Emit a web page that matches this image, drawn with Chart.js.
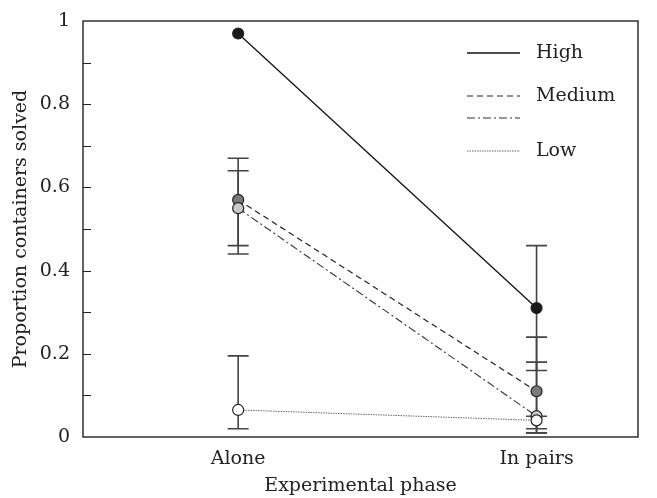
<!DOCTYPE html>
<html>
  <head>
    <meta charset="UTF-8" />
    <title>Proportion containers solved</title>
    <script src="https://cdn.jsdelivr.net/npm/chart.js"></script>
    <style>
      body {
        margin: 0;
        background: #fff;
      }
      .wrap {
        width: 657px;
        height: 498px;
      }
    </style>
  </head>
  <body>
    <div class="wrap"><canvas id="chart"></canvas></div>

    <script>
      // categories on the x axis
      const phases = ["Alone", "In pairs"];
      const phasePos = [1, 2];

      // group means and error bar ends
      const high = [0.97, 0.31];
      const highLo = [null, 0.16];
      const highHi = [null, 0.46];

      const medium = [0.57, 0.11];
      const mediumLo = [0.46, 0.02];
      const mediumHi = [0.67, 0.24];

      const mediumB = [0.55, 0.05]; // dash-dot series, no legend label
      const mediumBLo = [0.44, 0.01];
      const mediumBHi = [0.64, 0.18];

      const low = [0.065, 0.04];
      const lowLo = [0.02, 0.01];
      const lowHi = [0.195, 0.05];

      const yTicks = [0, 0.2, 0.4, 0.6, 0.8, 1];

      const FONT = "'DejaVu Serif', 'Liberation Serif', serif";

      function pts(vals) {
        return vals.map((v, i) => ({ x: phasePos[i], y: v }));
      }

      function series(label, vals, lo, hi, fill, dash, width, color, order) {
        return {
          label: label,
          data: pts(vals),
          errLo: lo,
          errHi: hi,
          order: order,
          borderColor: color,
          borderWidth: width,
          borderDash: dash,
          pointBackgroundColor: fill,
          pointBorderColor: "#222",
          pointBorderWidth: 1.2,
          pointRadius: 5.5,
          pointHoverRadius: 5.5,
          tension: 0,
        };
      }

      // later series sit on top where points overlap
      const datasets = [
        series("High", high, highLo, highHi, "#1a1a1a", [], 1.3, "#111", 4),
        series("Medium", medium, mediumLo, mediumHi, "#7a7a7a", [6, 4], 1.2, "#222", 3),
        series("", mediumB, mediumBLo, mediumBHi, "#c9c9c9", [8, 3, 2, 3], 1.1, "#333", 2),
        series("Low", low, lowLo, lowHi, "#ffffff", [1.5, 1], 1, "#666", 1),
      ];

      // error bars, drawn under the points
      const errorBars = {
        id: "errorBars",
        beforeDatasetsDraw(chart) {
          const { ctx, scales } = chart;
          ctx.save();
          ctx.strokeStyle = "#444";
          ctx.lineWidth = 1.6;
          chart.data.datasets.forEach((ds) => {
            ds.data.forEach((p, i) => {
              if (ds.errLo[i] == null) return;
              const x = scales.x.getPixelForValue(p.x);
              const y1 = scales.y.getPixelForValue(ds.errLo[i]);
              const y2 = scales.y.getPixelForValue(ds.errHi[i]);
              ctx.beginPath();
              ctx.moveTo(x, y1);
              ctx.lineTo(x, y2);
              ctx.moveTo(x - 10.5, y1);
              ctx.lineTo(x + 10.5, y1);
              ctx.moveTo(x - 10.5, y2);
              ctx.lineTo(x + 10.5, y2);
              ctx.stroke();
            });
          });
          ctx.restore();
        },
      };

      // box frame, inward y ticks and the legend inside the plot
      const frame = {
        id: "frame",
        afterDraw(chart) {
          const { ctx, chartArea: a, scales } = chart;
          ctx.save();
          ctx.strokeStyle = "#222";
          ctx.lineWidth = 1.4;
          ctx.strokeRect(a.left, a.top, a.right - a.left, a.bottom - a.top);
          ctx.beginPath();
          ctx.lineWidth = 1.2;
          for (let v = 1; v < 10; v++) {
            const y = Math.round(scales.y.getPixelForValue(v / 10)) + 0.5;
            ctx.moveTo(a.left, y);
            ctx.lineTo(a.left + 8, y);
          }
          ctx.stroke();

          const x0 = a.left + 384;
          const rows = [a.top + 32, a.top + 75, a.top + 97, a.top + 130];
          chart.data.datasets.forEach((ds, i) => {
            ctx.beginPath();
            ctx.strokeStyle = ds.borderColor;
            ctx.lineWidth = ds.borderWidth;
            ctx.setLineDash(ds.borderDash);
            ctx.moveTo(x0, rows[i]);
            ctx.lineTo(x0 + 53, rows[i]);
            ctx.stroke();
            ctx.setLineDash([]);
            if (ds.label) {
              ctx.fillStyle = "#222";
              ctx.font = "19px " + FONT;
              ctx.textBaseline = "middle";
              ctx.fillText(ds.label, x0 + 69, rows[i]);
            }
          });
          ctx.restore();
        },
      };

      new Chart(document.getElementById("chart"), {
        type: "line",
        data: { datasets: datasets },
        options: {
          responsive: true,
          maintainAspectRatio: false,
          animation: false,
          layout: { padding: { top: 21, right: 19, left: 0, bottom: 0 } },
          plugins: {
            legend: { display: false },
            tooltip: { enabled: false },
          },
          scales: {
            x: {
              type: "linear",
              min: 0.48,
              max: 2.34,
              afterBuildTicks(axis) {
                axis.ticks = phasePos.map((v) => ({ value: v }));
              },
              afterFit(axis) {
                axis.height = 61;
              },
              ticks: {
                color: "#222",
                font: { family: FONT, size: 19 },
                padding: 3,
                callback: (v) => phases[phasePos.indexOf(v)] || "",
              },
              grid: { display: false },
              border: { display: false },
              title: {
                display: true,
                text: "Experimental phase",
                color: "#222",
                font: { family: FONT, size: 19 },
                padding: { top: 4, bottom: 1 },
              },
            },
            y: {
              min: 0,
              max: 1,
              afterBuildTicks(axis) {
                axis.ticks = yTicks.map((v) => ({ value: v }));
              },
              afterFit(axis) {
                axis.width = 83;
              },
              ticks: {
                color: "#222",
                font: { family: FONT, size: 19 },
                padding: 5,
                callback: (v) => (v === 0 || v === 1 ? String(v) : v.toFixed(1)),
              },
              grid: { display: false },
              border: { display: false },
              title: {
                display: true,
                text: "Proportion containers solved",
                color: "#222",
                font: { family: FONT, size: 19 },
                padding: { top: 10, bottom: 6 },
              },
            },
          },
        },
        plugins: [errorBars, frame],
      });
    </script>
  </body>
</html>
